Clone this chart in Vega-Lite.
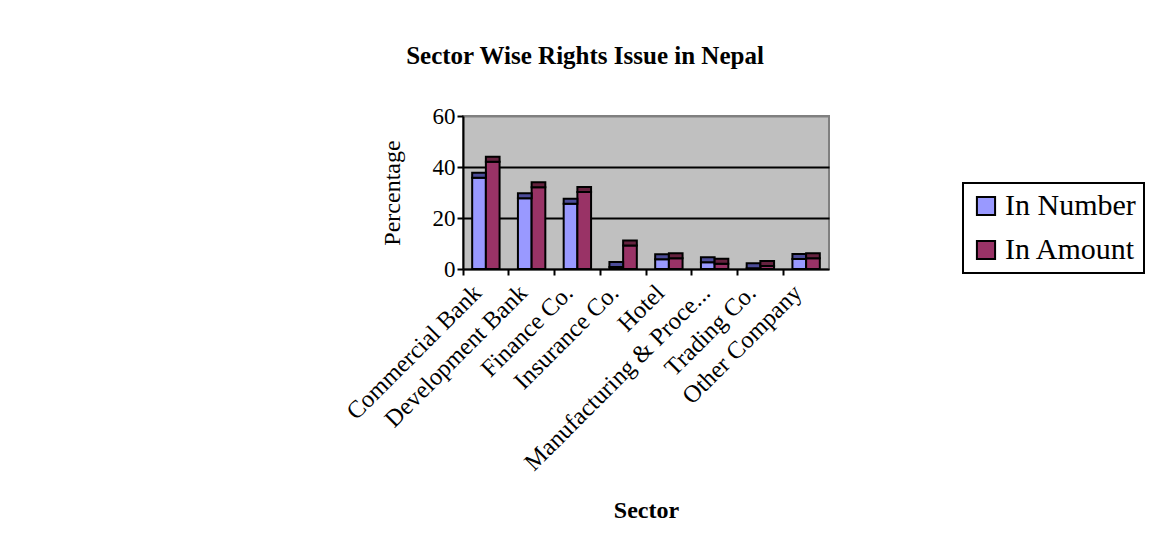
{
  "$schema": "https://vega.github.io/schema/vega-lite/v6.json",
  "autosize": {"type": "none"},
  "width": 366,
  "height": 153,
  "padding": {"left": 463, "top": 116, "right": 329, "bottom": 275},
  "background": "white",
  "title": {
    "text": "Sector Wise Rights Issue in Nepal",
    "font": "Liberation Serif",
    "fontSize": 25,
    "fontWeight": "bold",
    "color": "black",
    "anchor": "middle",
    "dx": -61,
    "offset": 36
  },
  "data": {
    "values": [
      {"Sector": "Commercial Bank", "Type": "In Number", "Value": 35.8},
      {"Sector": "Commercial Bank", "Type": "In Amount", "Value": 42.1},
      {"Sector": "Development Bank", "Type": "In Number", "Value": 27.7},
      {"Sector": "Development Bank", "Type": "In Amount", "Value": 32.1},
      {"Sector": "Finance Co.", "Type": "In Number", "Value": 25.6},
      {"Sector": "Finance Co.", "Type": "In Amount", "Value": 30.2},
      {"Sector": "Insurance Co.", "Type": "In Number", "Value": 0.8},
      {"Sector": "Insurance Co.", "Type": "In Amount", "Value": 9.2},
      {"Sector": "Hotel", "Type": "In Number", "Value": 3.8},
      {"Sector": "Hotel", "Type": "In Amount", "Value": 4.2},
      {"Sector": "Manufacturing & Proce...", "Type": "In Number", "Value": 2.6},
      {"Sector": "Manufacturing & Proce...", "Type": "In Amount", "Value": 2.1},
      {"Sector": "Trading Co.", "Type": "In Number", "Value": 0.3},
      {"Sector": "Trading Co.", "Type": "In Amount", "Value": 1.2},
      {"Sector": "Other Company", "Type": "In Number", "Value": 3.9},
      {"Sector": "Other Company", "Type": "In Amount", "Value": 4.2}
    ]
  },
  "encoding": {
    "x": {
      "field": "Sector",
      "type": "nominal",
      "sort": null,
      "scale": {"paddingInner": 0, "paddingOuter": 0},
      "axis": {
        "title": "Sector",
        "titleFont": "Liberation Serif",
        "titleFontSize": 24,
        "titleFontWeight": "bold",
        "titleColor": "black",
        "titleY": 241,
        "titleBaseline": "middle",
        "bandPosition": 0,
        "labelAngle": -45,
        "labelAlign": "right",
        "labelBaseline": "middle",
        "labelFont": "Liberation Serif",
        "labelFontSize": 24.5,
        "labelColor": "black",
        "labelOffset": -8,
        "labelPadding": 14,
        "labelLimit": 400,
        "domainColor": "black",
        "domainWidth": 2,
        "tickColor": "black",
        "tickWidth": 2,
        "tickSize": 6
      }
    },
    "xOffset": {
      "field": "Type",
      "type": "nominal",
      "sort": ["In Number", "In Amount"],
      "scale": {"paddingInner": 0, "paddingOuter": 0.67}
    },
    "y": {
      "field": "Value",
      "type": "quantitative",
      "scale": {"domain": [0, 60], "nice": false},
      "axis": {
        "title": "Percentage",
        "titleFont": "Liberation Serif",
        "titleFontSize": 24,
        "titleFontWeight": "normal",
        "titleColor": "black",
        "titlePadding": 28,
        "values": [0, 20, 40, 60],
        "labelFont": "Liberation Serif",
        "labelFontSize": 23,
        "labelColor": "black",
        "labelPadding": 2,
        "domainColor": "black",
        "domainWidth": 2,
        "tickColor": "black",
        "tickWidth": 2,
        "tickSize": 6,
        "grid": true,
        "gridColor": {"condition": {"test": "datum.value === 60 || datum.value === 0", "value": "#808080"}, "value": "black"},
        "gridWidth": 2
      }
    }
  },
  "layer": [
    {
      "mark": {"type": "bar", "stroke": "black", "strokeWidth": 2},
      "encoding": {
        "color": {
          "field": "Type",
          "type": "nominal",
          "sort": ["In Number", "In Amount"],
          "scale": {"domain": ["In Number", "In Amount"], "range": ["#9999FF", "#993366"]},
          "legend": {
            "title": null,
            "orient": "none",
            "legendX": 500,
            "legendY": 67,
            "strokeColor": "black",
            "fillColor": "white",
            "padding": 8,
            "symbolType": "square",
            "symbolSize": 330,
            "symbolStrokeColor": "black",
            "symbolStrokeWidth": 2,
            "labelFont": "Liberation Serif",
            "labelFontSize": 30,
            "labelColor": "black",
            "labelOffset": 4,
            "rowPadding": 14,
            "labelLimit": 300
          }
        }
      }
    },
    {
      "mark": {"type": "bar", "stroke": "black", "strokeWidth": 2, "yOffset": -5},
      "encoding": {
        "y2": {"field": "Value"},
        "fill": {
          "field": "Type",
          "type": "nominal",
          "scale": {"domain": ["In Number", "In Amount"], "range": ["#4C4C99", "#66223F"]},
          "legend": null
        }
      }
    }
  ],
  "config": {
    "view": {"fill": "#C0C0C0", "stroke": "#808080", "strokeWidth": 2},
    "legend": {"strokeWidth": 2}
  }
}
